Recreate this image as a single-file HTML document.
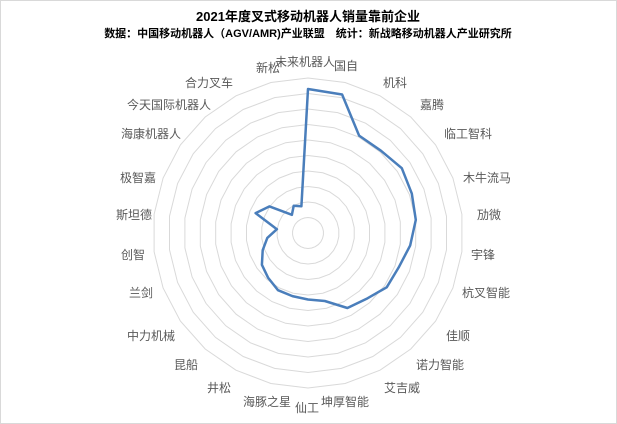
<!DOCTYPE html>
<html><head><meta charset="utf-8"><style>
body{margin:0;background:#fff}
#c{position:relative;width:617px;height:424px;overflow:hidden;font-family:"Liberation Sans","Noto Sans CJK SC",sans-serif}
</style></head><body><div id="c">
<svg id="s" width="617" height="424" xmlns="http://www.w3.org/2000/svg">
<rect x="0.5" y="0.5" width="616" height="423" fill="#fff" stroke="#d9d9d9"/>
<text x="308" y="21" text-anchor="middle" font-size="13" font-weight="bold" fill="#000" font-family="Liberation Sans,Noto Sans CJK SC,sans-serif">2021年度叉式移动机器人销量靠前企业</text>
<text x="308" y="37" text-anchor="middle" font-size="11" font-weight="bold" fill="#000" font-family="Liberation Sans,Noto Sans CJK SC,sans-serif">数据：中国移动机器人（AGV/AMR)产业联盟　统计：新战略移动机器人产业研究所</text>
<g id="g"></g>
</svg>
</div>
<script>
var cx=308,cy=233,R=155,N=26,ns="http://www.w3.org/2000/svg",g=document.getElementById('g');
function pt(i,r){var a=i*2*Math.PI/N;return (cx+r*Math.sin(a)).toFixed(1)+","+(cy-r*Math.cos(a)).toFixed(1);}
for(var k=1;k<=10;k++){var p=[];for(var i=0;i<N;i++)p.push(pt(i,R*k/10));
var e=document.createElementNS(ns,'polygon');e.setAttribute('points',p.join(' '));e.setAttribute('fill','none');e.setAttribute('stroke','#d9d9d9');e.setAttribute('stroke-width','1');g.appendChild(e);}
var d=[144,142.6,110,110,114,111,108.6,103,97,95.6,88,84.7,70,66.5,65,64.6,60,56,48.5,41,31.3,56,46.8,24.3,30.7,27.5];
var p=[];for(var i=0;i<N;i++)p.push(pt(i,d[i]));
var e=document.createElementNS(ns,'polygon');e.setAttribute('points',p.join(' '));e.setAttribute('fill','none');e.setAttribute('stroke','#4a7ebb');e.setAttribute('stroke-width','2.5');e.setAttribute('stroke-linejoin','round');g.appendChild(e);
var L=[["未来机器人",305,62],["国自",346,66],["机科",395,83],["嘉腾",432,105],["临工智科",468,134],["木牛流马",487,178],["劢微",489,215],["宇锋",483,255],["杭叉智能",486,293],["佳顺",458,336],["诺力智能",440,365],["艾吉威",402,388],["坤厚智能",345,402],["仙工",307,408],["海豚之星",267,402],["井松",219,388],["昆船",186,365],["中力机械",151,336],["兰剑",141,293],["创智",133,255],["斯坦德",134,215],["极智嘉",138,178],["海康机器人",151,134],["今天国际机器人",169,105],["合力叉车",209,83],["新松",268,68]];
L.forEach(function(l){var t=document.createElementNS(ns,'text');t.setAttribute('x',l[1]);t.setAttribute('y',l[2]+4);t.setAttribute('text-anchor','middle');t.setAttribute('font-size','12');t.setAttribute('fill','#595959');t.setAttribute('font-family','Liberation Sans,Noto Sans CJK SC,sans-serif');t.textContent=l[0];g.appendChild(t);});
</script>
</body></html>
